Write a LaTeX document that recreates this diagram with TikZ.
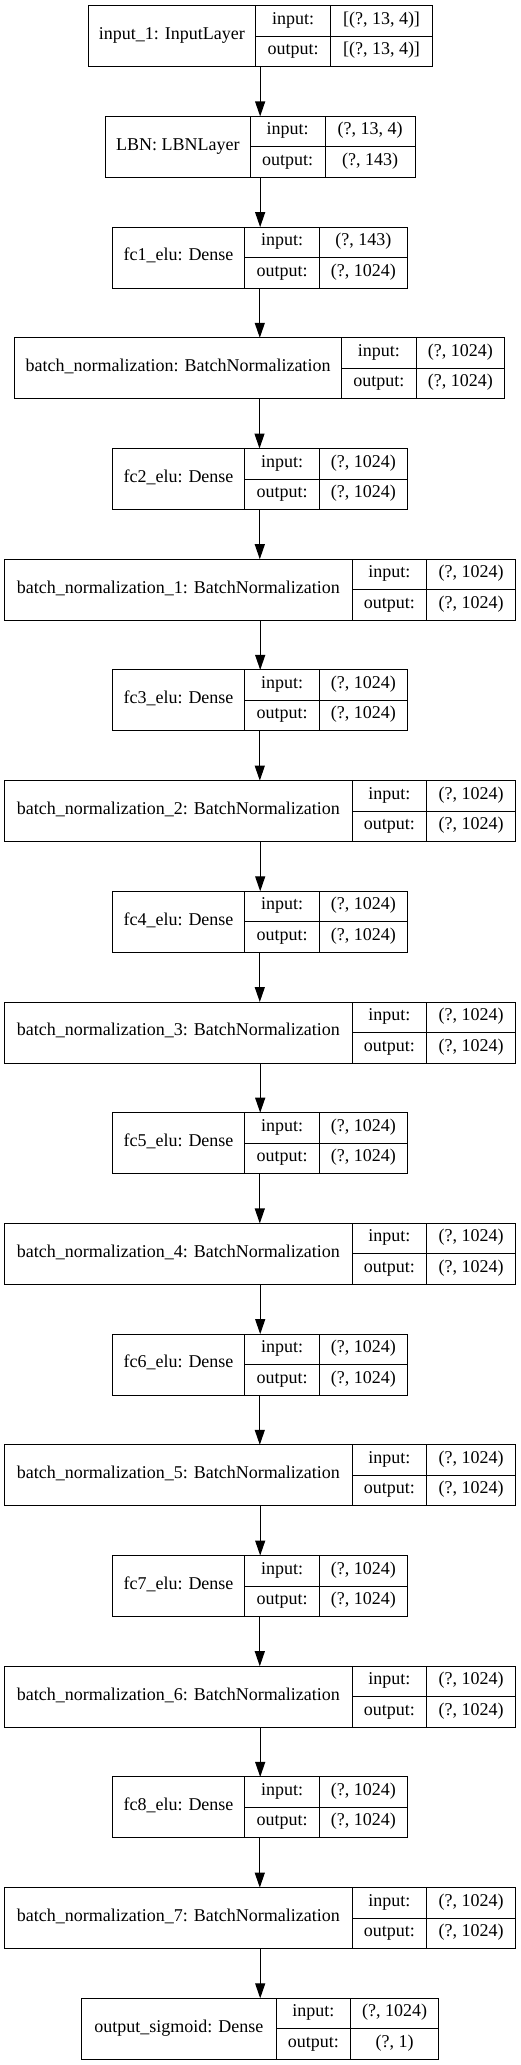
\documentclass[tikz,border=0pt]{standalone}
\usepackage{fontspec}
\setmainfont{Liberation Serif}
\usetikzlibrary{arrows.meta}
\tikzset{
  box/.style={draw=black, line width=1pt, rectangle, inner sep=0pt, outer sep=0pt},
  txt/.style={font=\fontsize{18}{20}\selectfont, text height=0.66em, text depth=0pt},
  arr/.style={draw=black, line width=1.2pt, -{Triangle[length=15pt,width=10pt]}},
}
\newcommand\layerbox[9]{%
  \pgfmathsetmacro\LBtop{5.7+110.7*#2}%
  \pgfmathsetmacro\LBmid{\LBtop+30.5}%
  \pgfmathsetmacro\LBup{\LBtop+15.25}%
  \pgfmathsetmacro\LBlo{\LBtop+45.75}%
  \pgfmathsetmacro\LBwAll{#6-#3}%
  \pgfmathsetmacro\LBwA{#4-#3}%
  \pgfmathsetmacro\LBwB{#5-#4}%
  \pgfmathsetmacro\LBwC{#6-#5}%
  \node[box, minimum width=\LBwAll pt, minimum height=61pt] (#1) at ({(#3+#6)/2},\LBmid) {};
  \node[box, txt, minimum width=\LBwA pt, minimum height=61pt] (#1-l) at ({(#3+#4)/2},\LBmid) {#7};
  \node[box, txt, minimum width=\LBwB pt, minimum height=30.5pt] (#1-ik) at ({(#4+#5)/2},\LBup) {input:};
  \node[box, txt, minimum width=\LBwB pt, minimum height=30.5pt] (#1-ok) at ({(#4+#5)/2},\LBlo) {output:};
  \node[box, txt, minimum width=\LBwC pt, minimum height=30.5pt] (#1-iv) at ({(#5+#6)/2},\LBup) {#8};
  \node[box, txt, minimum width=\LBwC pt, minimum height=30.5pt] (#1-ov) at ({(#5+#6)/2},\LBlo) {#9};
}
\newcommand\densebox[3]{\layerbox{#1}{#2}{112.3}{244.7}{319.3}{407.3}{#3}{(?, 1024)}{(?, 1024)}}
\newcommand\bnbox[3]{\layerbox{#1}{#2}{4.7}{352}{426.7}{515.7}{batch\_normalization\_#3: BatchNormalization}{(?, 1024)}{(?, 1024)}}
\begin{document}
\begin{tikzpicture}[x=1pt, y=-1pt]
\useasboundingbox (0,0) rectangle (520,2065);
\layerbox{L0}{0}{88}{255.7}{330.7}{432.3}{input\_1: InputLayer}{[(?, 13, 4)]}{[(?, 13, 4)]}
\layerbox{L1}{1}{105.3}{250.3}{325}{415}{LBN: LBNLayer}{(?, 13, 4)}{(?, 143)}
\layerbox{L2}{2}{112.3}{244.7}{319.3}{407.3}{fc1\_elu: Dense}{(?, 143)}{(?, 1024)}
\layerbox{L3}{3}{14.3}{341.7}{416}{504.7}{batch\_normalization: BatchNormalization}{(?, 1024)}{(?, 1024)}
\densebox{L4}{4}{fc2\_elu: Dense}
\bnbox{L5}{5}{1}
\densebox{L6}{6}{fc3\_elu: Dense}
\bnbox{L7}{7}{2}
\densebox{L8}{8}{fc4\_elu: Dense}
\bnbox{L9}{9}{3}
\densebox{L10}{10}{fc5\_elu: Dense}
\bnbox{L11}{11}{4}
\densebox{L12}{12}{fc6\_elu: Dense}
\bnbox{L13}{13}{5}
\densebox{L14}{14}{fc7\_elu: Dense}
\bnbox{L15}{15}{6}
\densebox{L16}{16}{fc8\_elu: Dense}
\bnbox{L17}{17}{7}
\layerbox{L18}{18}{81.7}{276}{350.7}{438.3}{output\_sigmoid: Dense}{(?, 1024)}{(?, 1)}
\foreach \a/\b in {0/1,1/2,2/3,3/4,4/5,5/6,6/7,7/8,8/9,9/10,10/11,11/12,12/13,13/14,14/15,15/16,16/17,17/18}
  \draw[arr] (L\a.south) -- (L\a.south |- L\b.north);
\end{tikzpicture}
\end{document}
